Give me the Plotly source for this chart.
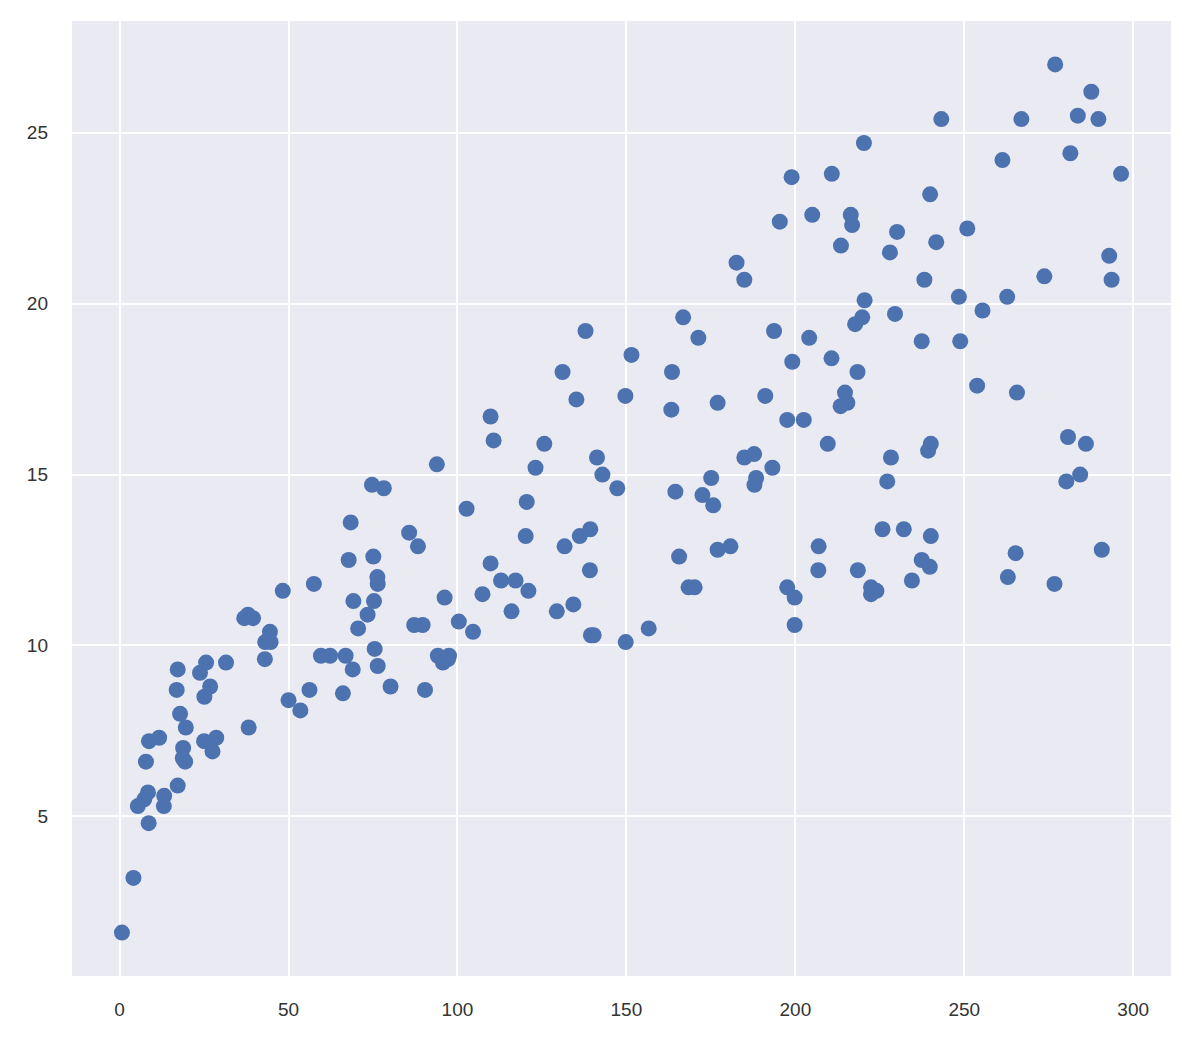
import plotly.graph_objects as go

tv = [230.1, 44.5, 17.2, 151.5, 180.8, 8.7, 57.5, 120.2, 8.6, 199.8,
      66.1, 214.7, 23.8, 97.5, 204.1, 195.4, 67.8, 281.4, 69.2, 147.3,
      218.4, 237.4, 13.2, 228.3, 62.3, 262.9, 142.9, 240.1, 248.8, 70.6,
      292.9, 112.9, 97.2, 265.6, 95.7, 290.7, 266.9, 74.7, 43.1, 228.0,
      202.5, 177.0, 293.6, 206.9, 25.1, 175.1, 89.7, 239.9, 227.2, 66.9,
      199.8, 100.4, 216.4, 182.6, 262.7, 198.9, 7.3, 136.2, 210.8, 210.7,
      53.5, 261.3, 239.3, 102.7, 131.1, 69.0, 31.5, 139.3, 237.4, 216.8,
      199.1, 109.8, 26.8, 129.4, 213.4, 16.9, 27.5, 120.5, 5.4, 116.0,
      76.4, 239.8, 75.3, 68.4, 213.5, 193.2, 76.3, 110.7, 88.3, 109.8,
      134.3, 28.6, 217.7, 250.9, 107.4, 163.3, 197.6, 184.9, 289.7, 135.2,
      222.4, 296.4, 280.2, 187.9, 238.2, 137.9, 25.0, 90.4, 13.1, 255.4,
      225.8, 241.7, 175.7, 209.6, 78.2, 75.1, 139.2, 76.4, 125.7, 19.4,
      141.3, 18.8, 224.0, 123.1, 229.5, 87.2, 7.8, 80.2, 220.3, 59.6,
      0.7, 265.2, 8.4, 219.8, 36.9, 48.3, 25.6, 273.7, 43.0, 184.9,
      73.4, 193.7, 220.5, 104.6, 96.2, 140.3, 240.1, 243.2, 38.0, 44.7,
      280.7, 121.0, 197.6, 171.3, 187.8, 4.1, 93.9, 149.8, 11.7, 131.7,
      172.5, 85.7, 188.4, 163.5, 117.2, 234.5, 17.9, 206.8, 215.4, 284.3,
      50.0, 164.5, 19.6, 168.4, 222.4, 276.9, 248.4, 170.2, 276.7, 165.6,
      156.6, 218.5, 56.2, 287.6, 253.8, 205.0, 139.5, 191.1, 286.0, 18.7,
      39.5, 75.5, 17.2, 166.8, 149.7, 38.2, 94.2, 177.0, 283.6, 232.1]

sales = [22.1, 10.4, 9.3, 18.5, 12.9, 7.2, 11.8, 13.2, 4.8, 10.6,
         8.6, 17.4, 9.2, 9.7, 19.0, 22.4, 12.5, 24.4, 11.3, 14.6,
         18.0, 12.5, 5.6, 15.5, 9.7, 12.0, 15.0, 15.9, 18.9, 10.5,
         21.4, 11.9, 9.6, 17.4, 9.5, 12.8, 25.4, 14.7, 10.1, 21.5,
         16.6, 17.1, 20.7, 12.9, 8.5, 14.9, 10.6, 23.2, 14.8, 9.7,
         11.4, 10.7, 22.6, 21.2, 20.2, 23.7, 5.5, 13.2, 23.8, 18.4,
         8.1, 24.2, 15.7, 14.0, 18.0, 9.3, 9.5, 13.4, 18.9, 22.3,
         18.3, 12.4, 8.8, 11.0, 17.0, 8.7, 6.9, 14.2, 5.3, 11.0,
         11.8, 12.3, 11.3, 13.6, 21.7, 15.2, 12.0, 16.0, 12.9, 16.7,
         11.2, 7.3, 19.4, 22.2, 11.5, 16.9, 11.7, 15.5, 25.4, 17.2,
         11.7, 23.8, 14.8, 14.7, 20.7, 19.2, 7.2, 8.7, 5.3, 19.8,
         13.4, 21.8, 14.1, 15.9, 14.6, 12.6, 12.2, 9.4, 15.9, 6.6,
         15.5, 7.0, 11.6, 15.2, 19.7, 10.6, 6.6, 8.8, 24.7, 9.7,
         1.6, 12.7, 5.7, 19.6, 10.8, 11.6, 9.5, 20.8, 9.6, 20.7,
         10.9, 19.2, 20.1, 10.4, 11.4, 10.3, 13.2, 25.4, 10.9, 10.1,
         16.1, 11.6, 16.6, 19.0, 15.6, 3.2, 15.3, 10.1, 7.3, 12.9,
         14.4, 13.3, 14.9, 18.0, 11.9, 11.9, 8.0, 12.2, 17.1, 15.0,
         8.4, 14.5, 7.6, 11.7, 11.5, 27.0, 20.2, 11.7, 11.8, 12.6,
         10.5, 12.2, 8.7, 26.2, 17.6, 22.6, 10.3, 17.3, 15.9, 6.7,
         10.8, 9.9, 5.9, 19.6, 17.3, 7.6, 9.7, 12.8, 25.5, 13.4]

x_ticks = [0, 50, 100, 150, 200, 250, 300]
y_ticks = [5, 10, 15, 20, 25]

xmin, xmax = min(tv), max(tv)
ymin, ymax = min(sales), max(sales)
xpad = (xmax - xmin) * 0.05
ypad = (ymax - ymin) * 0.05

fig = go.Figure()
fig.add_trace(go.Scatter(
    x=tv, y=sales, mode="markers",
    marker=dict(color="#4C72B0", size=16, line=dict(width=0)),
    showlegend=False,
))

axis_common = dict(
    showgrid=True, gridcolor="white", gridwidth=1.5,
    zeroline=False, showline=False, ticks="",
    tickfont=dict(family="Liberation Sans, Arial, sans-serif", size=19, color="#333333"),
)
fig.update_xaxes(range=[xmin - xpad, xmax + xpad], tickvals=x_ticks,
                 ticklabelstandoff=20, **axis_common)
fig.update_yaxes(range=[ymin - ypad, ymax + ypad], tickvals=y_ticks,
                 ticklabelstandoff=23, **axis_common)

fig.update_layout(
    width=1190, height=1038,
    margin=dict(l=64, r=27, t=13, b=70),
    plot_bgcolor="#EAEAF2", paper_bgcolor="white",
)

fig.write_html("out.html")
